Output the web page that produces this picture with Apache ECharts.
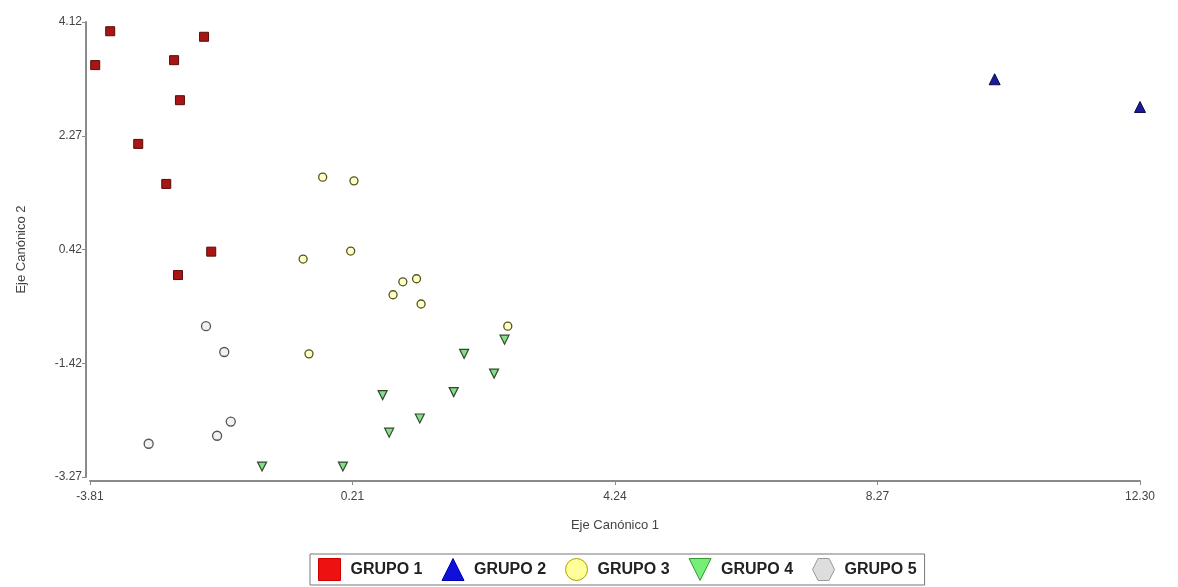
<!DOCTYPE html>
<html><head><meta charset="utf-8">
<script src="https://cdn.jsdelivr.net/npm/echarts@6/dist/echarts.min.js"></script>
<style>html,body{margin:0;padding:0;background:#fff}#c{width:1178px;height:587px}</style>
</head><body><div id="c"></div>
<script>
const seriesNames = ["GRUPO 1","GRUPO 2","GRUPO 3","GRUPO 4","GRUPO 5"];
const grupo1 = [[-3.73,3.42],[-3.50,3.97],[-2.52,3.50],[-2.06,3.88],[-2.43,2.85],[-3.07,2.14],[-2.64,1.49],[-1.95,0.39],[-2.46,0.01]];
const grupo2 = [[10.07,3.19],[12.30,2.74]];
const grupo3 = [[-0.24,1.60],[0.24,1.54],[-0.54,0.27],[0.19,0.40],[0.99,-0.10],[1.20,-0.05],[0.84,-0.31],[1.27,-0.46],[2.60,-0.82],[-0.45,-1.27]];
const grupo4 = [[2.55,-1.04],[1.93,-1.27],[2.39,-1.59],[1.77,-1.89],[0.68,-1.94],[1.25,-2.32],[0.78,-2.55],[0.07,-3.10],[-1.17,-3.10]];
const grupo5 = [[-2.03,-0.82],[-1.75,-1.24],[-1.65,-2.37],[-1.86,-2.60],[-2.91,-2.73]];
const xTicks = [-3.81,0.21,4.24,8.27,12.30];
const yTicks = [-3.27,-1.42,0.42,2.27,4.12];

const downTri = 'path://M0,0 L10,0 L5,10 Z';
const hexagon = 'path://M2.5,0 L7.5,0 L10,5 L7.5,10 L2.5,10 L0,5 Z';

function nearestLabel(arr){
  return v => { let best = arr[0]; for (const t of arr) if (Math.abs(t-v) < Math.abs(best-v)) best = t; return best.toFixed(2); };
}

const chart = echarts.init(document.getElementById('c'));
const axisLabel = {color:'#444', fontSize:12, fontFamily:'Liberation Sans, Arial'};
chart.setOption({
  animation:false,
  backgroundColor:'#fff',
  grid:{left:90, right:38, top:22, bottom:110, containLabel:false},
  xAxis:{type:'value', min:xTicks[0], max:xTicks[4], interval:(xTicks[4]-xTicks[0])/4, offset:4,
    name:'Eje Canónico 1', nameLocation:'middle', nameGap:38,
    nameTextStyle:{color:'#444', fontSize:13, fontFamily:'Liberation Sans, Arial'},
    axisLine:{onZero:false, lineStyle:{color:'#8a8a8a', width:2}},
    axisTick:{show:true, length:4, lineStyle:{color:'#8a8a8a'}},
    splitLine:{show:false},
    axisLabel:Object.assign({formatter:nearestLabel(xTicks), margin:10}, axisLabel)},
  yAxis:{type:'value', min:yTicks[0], max:yTicks[4], interval:(yTicks[4]-yTicks[0])/4, offset:4,
    name:'Eje Canónico 2', nameLocation:'middle', nameGap:58, nameRotate:90,
    nameTextStyle:{color:'#444', fontSize:13, fontFamily:'Liberation Sans, Arial'},
    axisLine:{show:true, onZero:false, lineStyle:{color:'#8a8a8a', width:2}},
    axisTick:{show:true, length:4, lineStyle:{color:'#8a8a8a'}},
    splitLine:{show:false},
    axisLabel:Object.assign({formatter:nearestLabel(yTicks), margin:4}, axisLabel)},
  legend:{bottom:2, left:310, itemWidth:22, itemHeight:22, itemGap:19,
    borderColor:'#777', borderWidth:1, padding:[4,8,4,8],
    textStyle:{color:'#222', fontSize:16, fontWeight:'bold', fontFamily:'Liberation Sans, Arial', padding:[0,0,0,5]},
    data:[
      {name:seriesNames[0], icon:'rect', itemStyle:{color:'#ee1111', borderColor:'#cc0000', borderWidth:1}},
      {name:seriesNames[1], icon:'triangle', itemStyle:{color:'#1010dd', borderColor:'#0000aa', borderWidth:1}},
      {name:seriesNames[2], icon:'circle', itemStyle:{color:'#ffff99', borderColor:'#aaa000', borderWidth:1}},
      {name:seriesNames[3], icon:downTri, itemStyle:{color:'#77ee77', borderColor:'#339933', borderWidth:1}},
      {name:seriesNames[4], icon:hexagon, itemStyle:{color:'#dddddd', borderColor:'#999999', borderWidth:1}}
    ]},
  series:[
    {name:seriesNames[0], type:'scatter', data:grupo1, symbol:'rect', symbolSize:9,
      itemStyle:{color:'#a81515', borderColor:'#5a0a0a', borderWidth:1, opacity:1}},
    {name:seriesNames[1], type:'scatter', data:grupo2, symbol:'triangle', symbolSize:11,
      itemStyle:{color:'#1a1a9a', borderColor:'#0a0a50', borderWidth:1, opacity:1}},
    {name:seriesNames[2], type:'scatter', data:grupo3, symbol:'circle', symbolSize:8,
      itemStyle:{color:'#ffffcc', borderColor:'#55551a', borderWidth:1.3, opacity:1}},
    {name:seriesNames[3], type:'scatter', data:grupo4, symbol:downTri, symbolSize:9,
      itemStyle:{color:'#88dd88', borderColor:'#2e4a2e', borderWidth:1.2, opacity:1}},
    {name:seriesNames[4], type:'scatter', data:grupo5, symbol:'circle', symbolSize:9,
      itemStyle:{color:'#f2f2f2', borderColor:'#555555', borderWidth:1.3, opacity:1}}
  ]
});
</script></body></html>
